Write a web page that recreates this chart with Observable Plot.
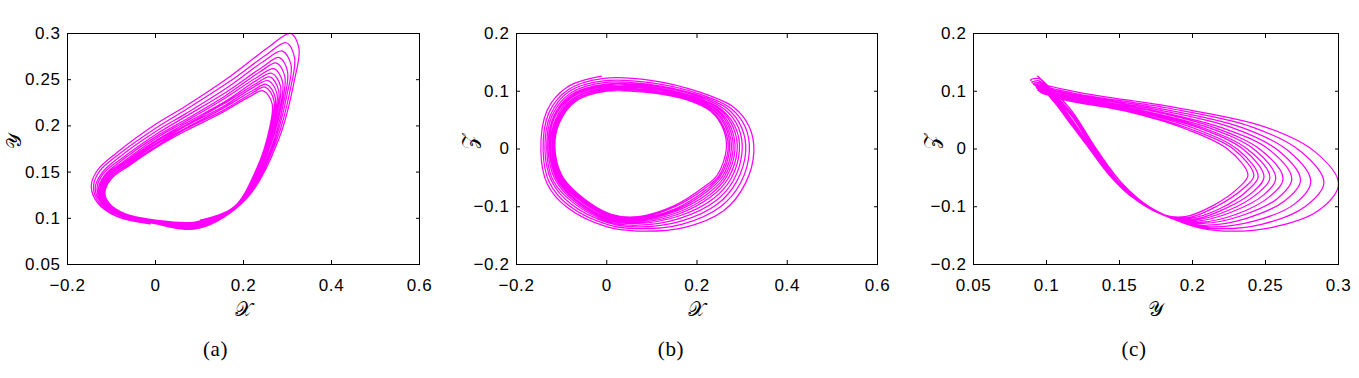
<!DOCTYPE html>
<html><head><meta charset="utf-8">
<script src="https://cdn.jsdelivr.net/npm/d3@7"></script>
<script src="https://cdn.jsdelivr.net/npm/@observablehq/plot@0.6"></script>
<style>
body{margin:0;background:#fff;}
#wrap{position:relative;width:1359px;height:378px;overflow:hidden;}
#wrap > svg{position:absolute;top:0;}
</style></head><body><div id="wrap"></div>
<script>
// Trajectory: 12 successive loops (outer first), 16 points per loop, in travel order.
const loopX = [
  [-0.012,-0.088,-0.132,-0.146,-0.132,-0.088,0.001,0.067,0.171,0.259,0.307,0.326,0.316,0.282,0.208,0.097],
  [-0.010,-0.085,-0.128,-0.141,-0.127,-0.084,0.002,0.067,0.168,0.252,0.297,0.316,0.307,0.274,0.203,0.096],
  [-0.008,-0.083,-0.124,-0.137,-0.122,-0.080,0.004,0.068,0.165,0.246,0.288,0.308,0.299,0.267,0.199,0.095],
  [-0.007,-0.080,-0.121,-0.133,-0.119,-0.076,0.005,0.068,0.162,0.241,0.281,0.300,0.292,0.261,0.195,0.094],
  [-0.006,-0.079,-0.118,-0.130,-0.115,-0.073,0.006,0.069,0.160,0.236,0.275,0.294,0.286,0.255,0.192,0.093],
  [-0.005,-0.077,-0.116,-0.127,-0.112,-0.071,0.006,0.069,0.158,0.232,0.269,0.289,0.281,0.251,0.190,0.093],
  [-0.004,-0.076,-0.113,-0.125,-0.110,-0.069,0.007,0.069,0.157,0.229,0.264,0.284,0.276,0.247,0.187,0.092],
  [-0.003,-0.074,-0.111,-0.122,-0.108,-0.067,0.008,0.069,0.155,0.226,0.260,0.280,0.272,0.243,0.185,0.092],
  [-0.002,-0.073,-0.110,-0.121,-0.106,-0.065,0.008,0.069,0.154,0.223,0.256,0.276,0.268,0.240,0.183,0.091],
  [-0.001,-0.072,-0.108,-0.119,-0.104,-0.063,0.009,0.070,0.153,0.220,0.252,0.272,0.265,0.237,0.182,0.091],
  [-0.001,-0.071,-0.107,-0.117,-0.102,-0.062,0.009,0.070,0.151,0.218,0.249,0.269,0.261,0.234,0.180,0.090],
  [0.000,-0.070,-0.105,-0.115,-0.100,-0.060,0.010,0.070,0.150,0.215,0.245,0.265,0.258,0.231,0.178,0.102]
];
const loopY = [
  [0.094,0.102,0.117,0.135,0.152,0.171,0.202,0.221,0.254,0.286,0.300,0.284,0.250,0.188,0.122,0.089],
  [0.095,0.102,0.117,0.134,0.151,0.169,0.198,0.217,0.248,0.277,0.290,0.274,0.241,0.183,0.120,0.090],
  [0.095,0.103,0.117,0.133,0.149,0.167,0.195,0.213,0.242,0.270,0.281,0.266,0.234,0.178,0.119,0.091],
  [0.096,0.103,0.117,0.132,0.148,0.165,0.192,0.210,0.237,0.263,0.274,0.259,0.227,0.174,0.118,0.092],
  [0.096,0.104,0.116,0.131,0.147,0.164,0.190,0.207,0.233,0.258,0.268,0.253,0.221,0.171,0.117,0.093],
  [0.096,0.104,0.116,0.131,0.147,0.162,0.188,0.205,0.230,0.253,0.262,0.247,0.216,0.168,0.116,0.093],
  [0.097,0.104,0.116,0.130,0.146,0.161,0.186,0.203,0.226,0.249,0.257,0.243,0.212,0.165,0.115,0.094],
  [0.097,0.104,0.116,0.130,0.145,0.160,0.185,0.201,0.224,0.245,0.253,0.238,0.208,0.163,0.114,0.094],
  [0.097,0.104,0.116,0.129,0.145,0.160,0.183,0.200,0.221,0.242,0.249,0.235,0.205,0.161,0.114,0.095],
  [0.098,0.105,0.116,0.129,0.144,0.159,0.182,0.198,0.219,0.238,0.245,0.231,0.202,0.159,0.113,0.095],
  [0.098,0.105,0.116,0.128,0.144,0.158,0.180,0.197,0.216,0.235,0.242,0.228,0.198,0.157,0.113,0.096],
  [0.098,0.105,0.116,0.128,0.143,0.157,0.179,0.195,0.214,0.232,0.238,0.224,0.195,0.155,0.112,0.098]
];
const loopZ = [
  [0.126,0.107,0.067,-0.003,-0.060,-0.101,-0.135,-0.142,-0.136,-0.107,-0.060,-0.005,0.038,0.072,0.098,0.119],
  [0.122,0.103,0.063,-0.002,-0.058,-0.098,-0.131,-0.138,-0.130,-0.100,-0.058,-0.004,0.038,0.071,0.096,0.115],
  [0.118,0.100,0.060,-0.001,-0.056,-0.095,-0.128,-0.135,-0.125,-0.095,-0.056,-0.004,0.037,0.070,0.094,0.112],
  [0.115,0.097,0.058,0.000,-0.054,-0.092,-0.126,-0.132,-0.120,-0.090,-0.054,-0.003,0.037,0.069,0.093,0.110],
  [0.112,0.094,0.056,0.001,-0.052,-0.090,-0.124,-0.129,-0.116,-0.086,-0.052,-0.002,0.036,0.068,0.091,0.108],
  [0.110,0.092,0.054,0.002,-0.051,-0.088,-0.122,-0.127,-0.113,-0.082,-0.051,-0.002,0.036,0.068,0.090,0.106],
  [0.108,0.090,0.052,0.003,-0.050,-0.087,-0.120,-0.125,-0.110,-0.079,-0.050,-0.002,0.036,0.067,0.089,0.104],
  [0.106,0.088,0.050,0.003,-0.049,-0.085,-0.118,-0.123,-0.107,-0.076,-0.049,-0.001,0.036,0.067,0.088,0.102],
  [0.105,0.087,0.049,0.004,-0.048,-0.084,-0.117,-0.122,-0.105,-0.073,-0.048,-0.001,0.036,0.066,0.087,0.101],
  [0.103,0.085,0.048,0.004,-0.047,-0.083,-0.116,-0.120,-0.103,-0.071,-0.047,-0.001,0.035,0.066,0.087,0.100],
  [0.102,0.084,0.046,0.005,-0.046,-0.081,-0.114,-0.119,-0.100,-0.068,-0.046,0.000,0.035,0.065,0.086,0.098],
  [0.100,0.082,0.045,0.005,-0.045,-0.080,-0.113,-0.117,-0.098,-0.066,-0.045,0.000,0.035,0.065,0.085,0.097]
];
const xTicks = [-0.2, 0, 0.2, 0.4, 0.6];
const yTicks = [0.05, 0.1, 0.15, 0.2, 0.25, 0.3];
const zTicks = [-0.2, -0.1, 0, 0.1, 0.2];
const xName = "𝒳", yName = "𝒴", zName = "𝒵";
const captions = ["(a)", "(b)", "(c)"];
const lineColor = "#ff00ff";

const points = [];
loopX.forEach((row, i) => row.forEach((v, j) => points.push({x: v, y: loopY[i][j], z: loopZ[i][j]})));

const wrap = document.getElementById("wrap");
const fmt = d3.format("~g");
const blank = () => "";
const labelFont = "'DejaVu Serif', serif";

function panel({h, v, hDomain, vDomain, hTicks, vTicks, left, width, ml, mr, hName, vName, vNameDx, caption, capDx}) {
  const svg = Plot.plot({
    width, height: 378,
    marginLeft: ml, marginRight: mr, marginTop: 33, marginBottom: 114,
    x: {domain: hDomain}, y: {domain: vDomain},
    style: {fontFamily: "'Liberation Sans', Arial, sans-serif", fontSize: "17px", letterSpacing: "0.6px", color: "#000", background: "#fff"},
    marks: [
      Plot.line(points, {x: h, y: v, curve: "catmull-rom", stroke: lineColor, strokeWidth: 1.25}),
      Plot.frame({stroke: "#000", strokeWidth: 1}),
      Plot.axisX(hTicks, {anchor: "bottom", tickSize: 4, dy: -4, tickFormat: blank, label: null}),
      Plot.axisX(hTicks, {anchor: "top", tickSize: 4, dy: 4, tickFormat: blank, label: null}),
      Plot.axisY(vTicks, {anchor: "left", tickSize: 4, dx: 4, tickFormat: blank, label: null}),
      Plot.axisY(vTicks, {anchor: "right", tickSize: 4, dx: -4, tickFormat: blank, label: null}),
      Plot.axisX(hTicks, {anchor: "bottom", tickSize: 0, tickPadding: 14, tickFormat: fmt, label: null}),
      Plot.axisY(vTicks, {anchor: "left", tickSize: 0, tickPadding: 7, tickFormat: fmt, label: null}),
      Plot.text([hName], {text: d => d, frameAnchor: "bottom", dy: 51, fontSize: 20, fontFamily: labelFont}),
      Plot.text([vName], {text: d => d, frameAnchor: "left", dx: vNameDx, rotate: -90, fontSize: 20, fontFamily: labelFont}),
      Plot.text([caption], {text: d => d, frameAnchor: "bottom", dy: 91, dx: capDx, fontSize: 21, fontFamily: "'Liberation Serif', serif"})
    ]
  });
  svg.style.left = left + "px";
  wrap.appendChild(svg);
}

panel({h: "x", v: "y", hDomain: [-0.2, 0.6], vDomain: [0.05, 0.3], hTicks: xTicks, vTicks: yTicks,
  left: 0, width: 453, ml: 67, mr: 34, hName: xName, vName: yName, vNameDx: -53, caption: captions[0], capDx: -28});
panel({h: "x", v: "z", hDomain: [-0.2, 0.6], vDomain: [-0.2, 0.2], hTicks: xTicks, vTicks: zTicks,
  left: 453, width: 453, ml: 63, mr: 29, hName: xName, vName: zName, vNameDx: -47, caption: captions[1], capDx: -26});
panel({h: "y", v: "z", hDomain: [0.05, 0.3], vDomain: [-0.2, 0.2], hTicks: yTicks, vTicks: zTicks,
  left: 906, width: 453, ml: 67, mr: 21, hName: yName, vName: zName, vNameDx: -42, caption: captions[2], capDx: -22});
</script></body></html>
